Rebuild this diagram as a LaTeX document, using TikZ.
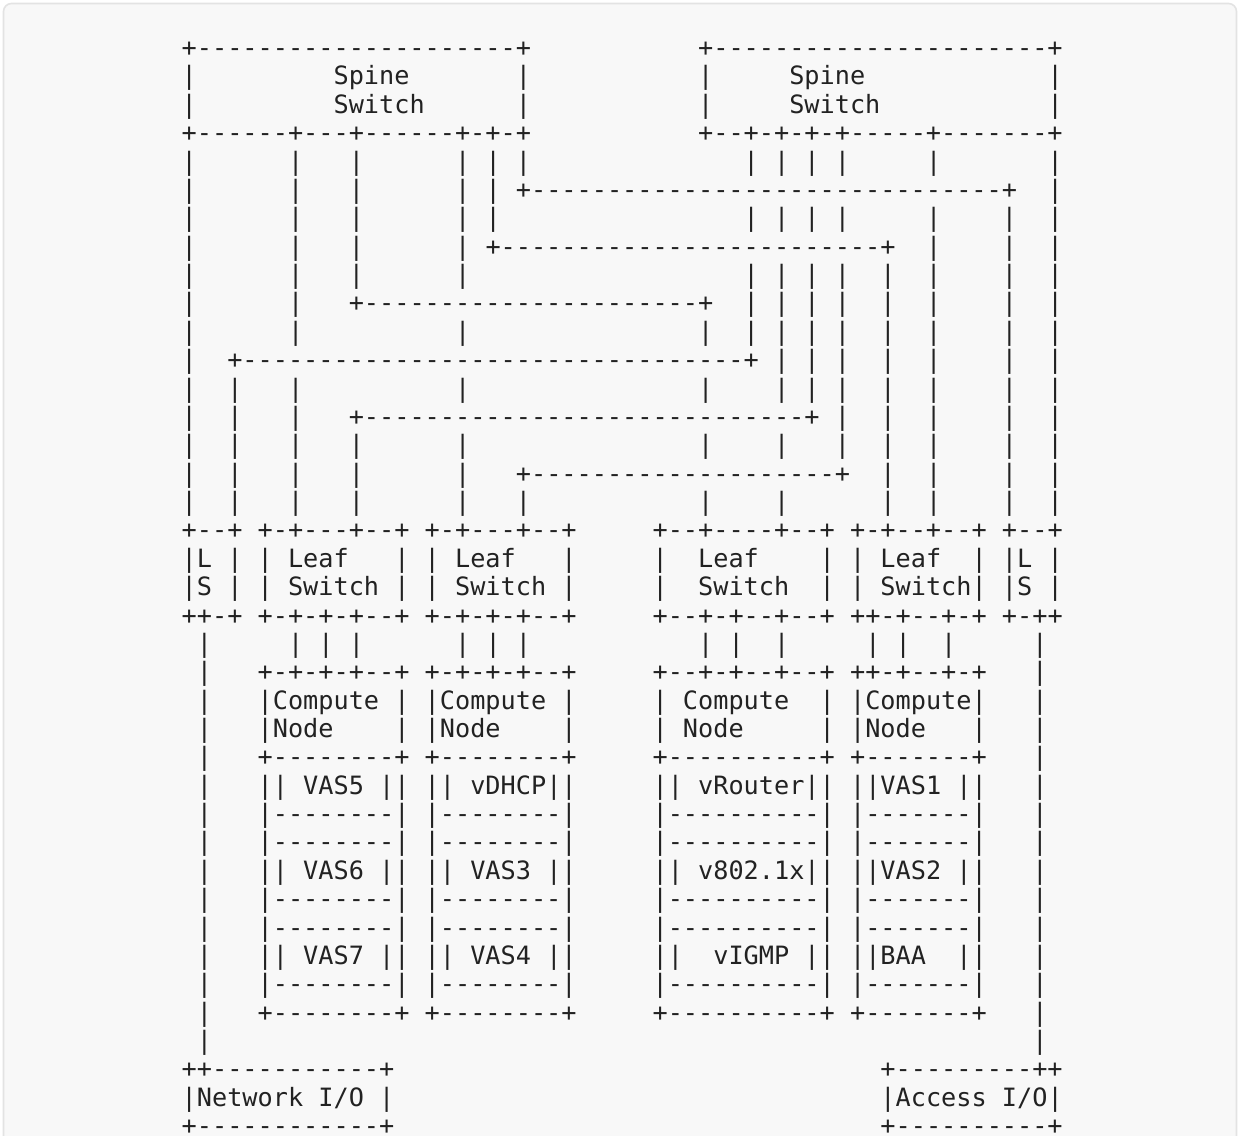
\documentclass[tikz,border=0pt]{standalone}
\usepackage{fontspec}
\setmonofont{DejaVu Sans Mono}
\definecolor{textc}{HTML}{222222}
\definecolor{bgc}{HTML}{F8F8F8}
\definecolor{bdc}{HTML}{E3E3E3}
\ExplSyntaxOn
\cs_new:Npn \dashrun #1 { \prg_replicate:nn { #1 } { - } }
\int_new:N \l_asc_last_int
\int_new:N \l_asc_first_int
\tl_new:N \l_asc_line_tl
\NewDocumentCommand \pl { m m }
  {
    \tl_clear:N \l_asc_line_tl
    \int_set:Nn \l_asc_last_int { -1 }
    \clist_map_inline:nn { #2 }
      {
        \int_compare:nNnTF { \l_asc_last_int } < { 0 }
          {
            \int_set:Nn \l_asc_first_int { ##1 }
            \tl_put_right:Nn \l_asc_line_tl { + }
          }
          {
            \tl_put_right:Nx \l_asc_line_tl
              { \prg_replicate:nn { ##1 - \l_asc_last_int - 1 } { - } + }
          }
        \int_set:Nn \l_asc_last_int { ##1 }
      }
    \use:x
      {
        \exp_not:N \R { #1 } { \int_use:N \l_asc_first_int } { \exp_not:V \l_asc_line_tl }
      }
  }
\ExplSyntaxOff
\tikzset{txt/.style={anchor=base west, inner sep=0pt, outer sep=0pt, text=textc,
  font=\ttfamily\fontsize{18.92pt}{21pt}\selectfont}}
\newcommand\R[3]{\node[txt] (n#1x#2) at ({181.7+15.19*(#2)},{56.6+28.37*(#1)}) {#3};}
\newcommand\B[2]{\foreach \cc in {#2}{\R{#1}{\cc}{|}}}
\newcommand\DL[1]{\R{#1}{5}{|\dashrun{8}|}\R{#1}{16}{|\dashrun{8}|}\R{#1}{31}{|\dashrun{10}|}\R{#1}{44}{|\dashrun{7}|}\B{#1}{1,56}}
\begin{document}
\begin{tikzpicture}[x=0.75pt,y=-0.75pt]
\useasboundingbox (0,0) rectangle (1240,1136);
\fill[white] (0,0) rectangle (1240,1136);
\draw[fill=bgc,draw=bdc,line width=1.2pt,rounded corners=6] (3.5,3.5) rectangle (1236.5,1160);
% row 0-2 spine switches
\pl{0}{0,22} \pl{0}{34,57}
\B{1}{0,22,34,57} \R{1}{10}{Spine} \R{1}{40}{Spine}
\B{2}{0,22,34,57} \R{2}{10}{Switch} \R{2}{40}{Switch}
\pl{3}{0,7,11,18,20,22} \pl{3}{34,37,39,41,43,49,57}
% cabling
\B{4}{0,7,11,18,20,22,37,39,41,43,49,57}
\B{5}{0,7,11,18,20,57} \pl{5}{22,54}
\B{6}{0,7,11,18,20,37,39,41,43,49,54,57}
\B{7}{0,7,11,18,49,54,57} \pl{7}{20,46}
\B{8}{0,7,11,18,37,39,41,43,46,49,54,57}
\B{9}{0,7,37,39,41,43,46,49,54,57} \pl{9}{11,34}
\B{10}{0,7,18,34,37,39,41,43,46,49,54,57}
\B{11}{0,39,41,43,46,49,54,57} \pl{11}{3,37}
\B{12}{0,3,7,18,34,39,41,43,46,49,54,57}
\B{13}{0,3,7,43,46,49,54,57} \pl{13}{11,41}
\B{14}{0,3,7,11,18,34,39,43,46,49,54,57}
\B{15}{0,3,7,11,18,46,49,54,57} \pl{15}{22,43}
\B{16}{0,3,7,11,18,22,34,39,46,49,54,57}
% leaf switches
\pl{17}{0,3} \pl{17}{5,7,11,14} \pl{17}{16,18,22,25} \pl{17}{31,34,39,42} \pl{17}{44,46,49,52} \pl{17}{54,57}
\B{18}{0,3,5,14,16,25,31,42,44,52,54,57}
\R{18}{1}{L} \R{18}{7}{Leaf} \R{18}{18}{Leaf} \R{18}{34}{Leaf} \R{18}{46}{Leaf} \R{18}{55}{L}
\B{19}{0,3,5,14,16,25,31,42,44,52,54,57}
\R{19}{1}{S} \R{19}{7}{Switch} \R{19}{18}{Switch} \R{19}{34}{Switch} \R{19}{46}{Switch} \R{19}{55}{S}
\pl{20}{0,1,3} \pl{20}{5,7,9,11,14} \pl{20}{16,18,20,22,25} \pl{20}{31,34,36,39,42} \pl{20}{44,45,47,50,52} \pl{20}{54,56,57}
\B{21}{1,7,9,11,18,20,22,34,36,39,45,47,50,56}
% compute nodes
\B{22}{1,56} \pl{22}{5,7,9,11,14} \pl{22}{16,18,20,22,25} \pl{22}{31,34,36,39,42} \pl{22}{44,45,47,50,52}
\B{23}{1,5,14,16,25,31,42,44,52,56}
\R{23}{6}{Compute} \R{23}{17}{Compute} \R{23}{33}{Compute} \R{23}{45}{Compute}
\B{24}{1,5,14,16,25,31,42,44,52,56}
\R{24}{6}{Node} \R{24}{17}{Node} \R{24}{33}{Node} \R{24}{45}{Node}
\B{25}{1,56} \pl{25}{5,14} \pl{25}{16,25} \pl{25}{31,42} \pl{25}{44,52}
\B{26}{1,5,6,13,14,16,17,24,25,31,32,41,42,44,45,51,52,56}
\R{26}{8}{VAS5} \R{26}{19}{vDHCP} \R{26}{34}{vRouter} \R{26}{46}{VAS1}
\DL{27} \DL{28}
\B{29}{1,5,6,13,14,16,17,24,25,31,32,41,42,44,45,51,52,56}
\R{29}{8}{VAS6} \R{29}{19}{VAS3} \R{29}{34}{v802.1x} \R{29}{46}{VAS2}
\DL{30} \DL{31}
\B{32}{1,5,6,13,14,16,17,24,25,31,32,41,42,44,45,51,52,56}
\R{32}{8}{VAS7} \R{32}{19}{VAS4} \R{32}{35}{vIGMP} \R{32}{46}{BAA}
\DL{33}
\B{34}{1,56} \pl{34}{5,14} \pl{34}{16,25} \pl{34}{31,42} \pl{34}{44,52}
\B{35}{1,56}
% I/O
\pl{36}{0,1,13} \pl{36}{46,56,57}
\B{37}{0,13,46,57} \R{37}{1}{Network} \R{37}{9}{I/O} \R{37}{47}{Access} \R{37}{54}{I/O}
\pl{38}{0,13} \pl{38}{46,57}
\end{tikzpicture}
\end{document}
